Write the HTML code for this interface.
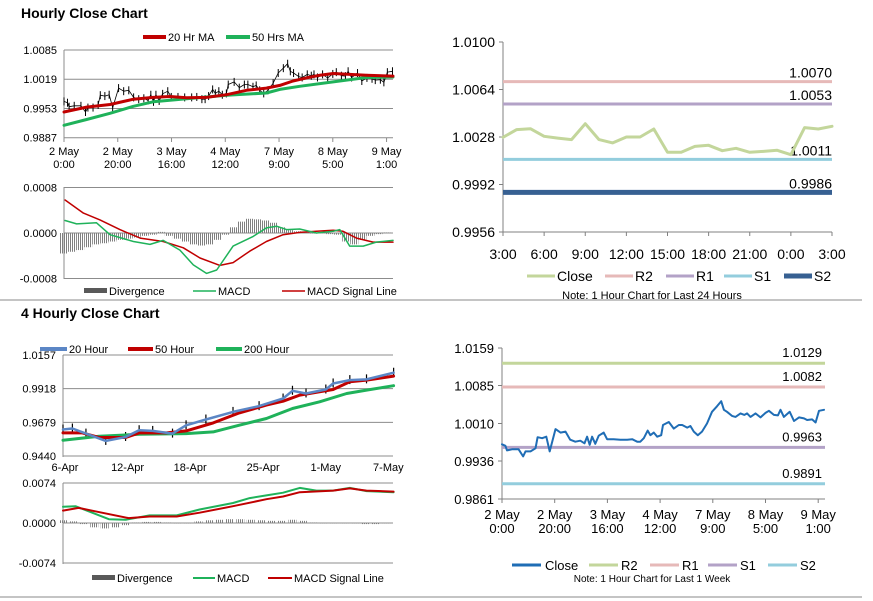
<!DOCTYPE html>
<html><head><meta charset="utf-8">
<style>
html,body{margin:0;padding:0;background:#fff;}
svg{display:block;font-family:"Liberation Sans",Arial,sans-serif;}
</style></head>
<body>
<svg id="c" width="873" height="601" viewBox="0 0 873 601" xmlns="http://www.w3.org/2000/svg">
<defs>
<pattern id="hatch" width="2" height="4" patternUnits="userSpaceOnUse"><rect x="0" y="0" width="1" height="4" fill="#7f7f7f"/></pattern>
</defs>
<text x="21" y="18" font-size="14" font-weight="bold" fill="#000">Hourly Close Chart</text>
<text x="21" y="318" font-size="14" font-weight="bold" fill="#000">4 Hourly Close Chart</text>
<line x1="0" y1="300" x2="862" y2="300" stroke="#888" stroke-width="1"/>
<line x1="0" y1="597" x2="862" y2="597" stroke="#888" stroke-width="1"/>
<g id="g"></g>
</svg>
<script>
// ---- Hourly (2 May 0:00 .. 9 May 1:00), hours since start ----
const hourTicks=[0,20,40,60,80,100,120];
const hourTickLabels=[["2 May","0:00"],["2 May","20:00"],["3 May","16:00"],["4 May","12:00"],["7 May","9:00"],["8 May","5:00"],["9 May","1:00"]];
const closeHours=[0,1.3,1.9,3.8,6.3,8.0,8.9,10.8,12.7,13.5,15.2,16.8,18.1,20.3,22.2,24.1,25.9,27.8,29.7,31.3,32.3,33.3,34.2,35.4,36.7,38.6,39.9,42.4,44.9,47.5,49.4,51.3,52.5,53.8,55.3,56.3,57.6,58.9,60.4,61.1,63.3,65.2,67.1,68.4,70.3,71.5,72.8,74.3,75.9,77.8,79.7,81.6,83.2,84.2,85.4,87.3,88.6,90.5,92.0,93.0,94.3,96.2,98.1,100.0,101.3,103.2,104.7,105.7,107.0,109.2,110.8,112.7,114.6,115.8,117.7,119.0,120.3,122.2];
const closeValues=[0.9969,0.9966,0.9957,0.9959,0.9959,0.9945,0.9955,0.9955,0.9961,0.9983,0.9981,0.9984,0.9955,0.9999,0.9992,0.9994,0.9978,0.9974,0.9976,0.9971,0.9984,0.9968,0.9984,0.9970,0.9986,0.9992,0.9979,0.9979,0.9978,0.9978,0.9979,0.9974,0.9974,0.9981,0.9996,0.9987,0.9992,0.9984,0.9987,1.0007,1.0013,1.0000,1.0007,1.0007,1.0002,1.0005,0.9994,0.9987,0.9994,1.0010,1.0033,1.0044,1.0054,1.0037,1.0033,1.0025,1.0023,1.0030,1.0027,1.0030,1.0023,1.0030,1.0022,1.0031,1.0035,1.0027,1.0026,1.0037,1.0023,1.0033,1.0015,1.0022,1.0020,1.0017,1.0018,1.0012,1.0035,1.0037];
const ma20Hours=[0,8.4,17.1,25.8,33.2,39.4,45.6,53.0,60.5,67.9,75.3,80.3,85.2,90.2,95.2,100.1,106.3,112.5,122.4];
const ma20Values=[0.9945,0.9956,0.9962,0.9974,0.9978,0.9980,0.9977,0.9978,0.9984,0.9994,0.9999,1.0005,1.0015,1.0022,1.0028,1.0032,1.0030,1.0028,1.0026];
const ma50Hours=[0,8.4,17.1,25.8,33.2,45.6,60.5,75.3,80.3,87.7,100.1,112.5,122.4];
const ma50Values=[0.9915,0.9928,0.9942,0.9958,0.9968,0.9975,0.9983,0.9988,0.9996,1.0003,1.0013,1.0023,1.0024];
const hMacdHours=[0.4,4.7,12.1,17.1,25.8,32.0,36.9,43.1,48.1,53.0,56.8,62.9,70.4,75.3,79.1,82.8,87.7,93.9,100.1,102.6,106.3,111.3,116.2,122.4];
const hMacdValues=[0.00022,0.00016,0.00018,-0.00003,-0.00015,-0.0002,-0.00013,-0.0003,-0.00056,-0.00071,-0.00065,-0.00023,-0.00006,0.00009,0.00012,0.00006,0.00007,0,0.00003,0.00006,-0.00023,-0.00023,-0.00016,-0.00013];
const hSignalHours=[0.4,7.2,13.4,20.8,28.3,36.9,44.4,50.6,58.0,62.9,69.1,75.3,81.5,87.7,93.9,100.1,103.8,108.8,115.0,122.4];
const hSignalValues=[0.00058,0.00035,0.00023,0.00006,-0.00009,-0.00015,-0.00026,-0.00044,-0.00057,-0.00052,-0.00032,-0.00015,-0.00003,0.00001,0.00003,0.00005,0.00003,-0.00009,-0.00016,-0.00016];
const hDivValues=[-0.00036,-0.00033,-0.0003,-0.00025,-0.0002,-0.00018,-0.00015,-0.00012,-0.0001,-0.00008,-0.00005,-0.00003,0.00002,-0.00005,-0.0001,-0.00015,-0.0002,-0.00022,-0.0002,-0.00012,-0.00003,0.0001,0.0002,0.00025,0.00024,0.00022,0.00018,0.0001,0.00005,0.00003,0.00002,-0.00001,0,-0.00002,-0.00003,-0.00015,-0.0002,-0.00012,-0.00005,-0.00002,0.00001];
// ---- 4 hourly (days since 6-Apr) ----
const dayTicks=[0,6,12,19,25,31];
const dayTickLabels=["6-Apr","12-Apr","18-Apr","25-Apr","1-May","7-May"];
const ma20dDays=[0,0.9,2.2,4.1,6.0,7.3,8.6,10.5,11.8,13.7,16.3,18.8,21.1,22.0,23.3,25.2,25.9,27.5,29.1,31.7];
const ma20dValues=[0.9628,0.9635,0.9599,0.9547,0.9575,0.9623,0.9618,0.9599,0.9658,0.9699,0.9753,0.9794,0.9848,0.9903,0.9884,0.9912,0.9955,0.9979,0.9984,1.0031];
const ma50dDays=[0,1.86,3.46,6.0,7.3,9.9,11.8,14.4,16.9,19.5,21.1,22.7,24.6,25.9,27.5,29.1,31.7];
const ma50dValues=[0.9604,0.9604,0.9571,0.9571,0.9604,0.9604,0.9618,0.9675,0.9746,0.9801,0.9829,0.9872,0.9896,0.9912,0.9967,0.9979,1.0007];
const ma200dDays=[0,3.46,7.3,11.8,14.4,16.9,19.5,22.0,24.6,27.2,29.1,31.7];
const ma200dValues=[0.9552,0.9580,0.9594,0.9599,0.9611,0.9659,0.9706,0.9777,0.9825,0.9884,0.9908,0.9939];
const dMacdDays=[0,1.2,2.8,4.4,6.0,8.3,10.9,13.1,16.3,17.9,19.5,21.1,22.7,24.3,25.9,27.5,29.1,31.7];
const dMacdValues=[0.0030,0.0031,0.0019,0.0007,0.0006,0.0014,0.0014,0.0025,0.0037,0.0046,0.0051,0.0056,0.0065,0.0060,0.0060,0.0065,0.0059,0.0057];
const dSignalDays=[0,1.5,3.5,6.3,8.3,10.9,13.1,16.3,19.5,21.1,22.7,25.9,27.5,29.1,31.7];
const dSignalValues=[0.0023,0.0028,0.0020,0.0009,0.0012,0.0012,0.0019,0.0031,0.0044,0.0049,0.0057,0.0060,0.0064,0.0060,0.0058];
const dDivValues=[0.0005,0.0003,-0.0002,-0.0008,-0.0010,-0.0008,-0.0004,0.0001,0.0002,0.0002,0.0001,0,0,0.0003,0.0005,0.0006,0.0007,0.0007,0.0006,0.0005,0.0004,0.0004,0.0006,0.0004,0.0001,0,0,0,0,-0.0002,-0.0002,0];
// ---- 24h pivot chart ----
const dayCloseLabels=["3:00","6:00","9:00","12:00","15:00","18:00","21:00","0:00","3:00"];
const dayCloseValues=[1.00278,1.00336,1.00343,1.00285,1.00272,1.00260,1.00381,1.00260,1.00235,1.00280,1.00280,1.00341,1.00164,1.00164,1.00209,1.00217,1.00176,1.00194,1.00164,1.00171,1.00179,1.00146,1.00351,1.00341,1.00361];
const dayPivotNames=["R2","R1","S1","S2"];
const dayPivotValues=[1.0070,1.0053,1.0011,0.9986];
const weekPivotNames=["R2","R1","S1","S2"];
const weekPivotValues=[1.0129,1.0082,0.9963,0.9891];

const NS="http://www.w3.org/2000/svg";
const G=document.getElementById('g');
function mk(tag,attrs,name,parent){
  const el=document.createElementNS(NS,tag);
  for(const k in attrs) el.setAttribute(k,attrs[k]);
  
  
  (parent||G).appendChild(el);
  return el;
}
function txt(x,y,s,size,anchor,name,fill){
  const t=mk('text',{x:x,y:y,'font-size':size,'text-anchor':anchor||'start',fill:fill||'#000'},name);
  t.textContent=s; return t;
}
function path(xs,ys,fx,fy,color,w,name){
  let d='';
  for(let i=0;i<xs.length;i++){d+=(i?'L':'M')+fx(xs[i]).toFixed(1)+','+fy(ys[i]).toFixed(1);}
  return mk('path',{d:d,fill:'none',stroke:color,'stroke-width':w,'stroke-linejoin':'round','stroke-linecap':'round'},name);
}
const GRID='#8c8c8c';
function hgrid(x1,x2,y,name){mk('line',{x1:x1,x2:x2,y1:y,y2:y,stroke:GRID,'stroke-width':1},name);}
function legendLine(x1,x2,y,color,w,label,name){
  mk('line',{x1:x1,x2:x2,y1:y,y2:y,stroke:color,'stroke-width':w},name+'-swatch');
  txt(x2+2,y+4,label,11,'start',name+'-label');
}

// ===== Panel 1: hourly price =====
const x1=h=>64+h*2.688, y1=v=>50+(1.0085-v)/0.0198*87.7;
[1.0085,1.0019,0.9953,0.9887].forEach(v=>{hgrid(64,393,y1(v),'p1-gridline');txt(57,y1(v)+4,v.toFixed(4),11,'end','p1-y-tick');});
mk('line',{x1:64,x2:64,y1:50,y2:138,stroke:GRID},'p1-y-axis');
hourTicks.forEach((h,i)=>{mk('line',{x1:x1(h),x2:x1(h),y1:138,y2:142,stroke:GRID},'p1-x-tick');
 txt(x1(h),155,hourTickLabels[i][0],11,'middle','p1-x-label');txt(x1(h),168,hourTickLabels[i][1],11,'middle','p1-x-label');});
for(let i=0;i<closeHours.length;i++){
  mk('line',{x1:x1(closeHours[i]),x2:x1(closeHours[i]),y1:y1(closeValues[i])-4,y2:y1(closeValues[i])+4,stroke:'#000','stroke-width':1},'p1-price-bar');
}
path(closeHours,closeValues,x1,y1,'#000',0.8,'p1-price-line');
path(ma50Hours,ma50Values,x1,y1,'#1fb25a',3,'p1-ma50-line');
path(ma20Hours,ma20Values,x1,y1,'#c00000',3,'p1-ma20-line');
legendLine(143,166,37,'#c00000',4,'20 Hr MA','p1-legend-ma20');
legendLine(226,250,37,'#1fb25a',4,'50 Hrs MA','p1-legend-ma50');

// ===== Panel 1 MACD =====
const ym1=v=>233-v/0.0008*45.5;
[0.0008,0,-0.0008].forEach(v=>{hgrid(64,393,ym1(v),'p1m-gridline');txt(57,ym1(v)+4,v.toFixed(4),11,'end','p1m-y-tick');});
mk('line',{x1:64,x2:64,y1:187,y2:279,stroke:GRID},'p1m-y-axis');
hDivValues.forEach((v,i)=>{const yy=ym1(v),y0=ym1(0);
 mk('rect',{x:x1(i*3)-4,y:Math.min(yy,y0),width:8,height:Math.max(Math.abs(yy-y0),0.5),fill:'url(#hatch)'},'p1-divergence-bar');});
path(hSignalHours,hSignalValues,x1,ym1,'#c00000',1.5,'p1-macd-signal-line');
path(hMacdHours,hMacdValues,x1,ym1,'#1fb25a',1.5,'p1-macd-line');
mk('rect',{x:84,y:288,width:23,height:5,fill:'#595959'},'p1-legend-divergence-swatch');
txt(109,295,'Divergence',11,'start','p1-legend-divergence-label');
legendLine(193,216,291,'#1fb25a',1.5,'MACD','p1-legend-macd');
legendLine(282,305,291,'#c00000',1.5,'MACD Signal Line','p1-legend-signal');

// ===== Panel 2: 4-hourly price =====
const x2=d=>63+d*10.43, y2=v=>355+(1.0157-v)/0.0717*101;
[1.0157,0.9918,0.9679,0.9440].forEach(v=>{hgrid(63,393,y2(v),'p2-gridline');txt(56,y2(v)+4,v.toFixed(4),11,'end','p2-y-tick');});
mk('line',{x1:63,x2:63,y1:355,y2:457,stroke:GRID},'p2-y-axis');
dayTicks.forEach((d,i)=>{txt(x2(d)+2,471,dayTickLabels[i],11,'middle','p2-x-label');});
for(let i=0;i<ma20dDays.length;i++){
  mk('line',{x1:x2(ma20dDays[i]),x2:x2(ma20dDays[i]),y1:y2(ma20dValues[i])-5,y2:y2(ma20dValues[i])+4,stroke:'#000','stroke-width':1.2},'p2-price-bar');
}
path(ma200dDays,ma200dValues,x2,y2,'#1fb25a',3,'p2-ma200-line');
path(ma50dDays,ma50dValues,x2,y2,'#c00000',3,'p2-ma50-line');
path(ma20dDays,ma20dValues,x2,y2,'#5b86c5',2.5,'p2-ma20-line');
legendLine(40,67,349,'#5b86c5',4,'20 Hour','p2-legend-ma20');
legendLine(128,153,349,'#c00000',4,'50 Hour','p2-legend-ma50');
legendLine(216,242,349,'#1fb25a',4,'200 Hour','p2-legend-ma200');

// ===== Panel 2 MACD =====
const ym2=v=>523-v/0.0074*40;
[0.0074,0,-0.0074].forEach(v=>{hgrid(63,393,ym2(v),'p2m-gridline');txt(56,ym2(v)+4,v.toFixed(4),11,'end','p2m-y-tick');});
mk('line',{x1:63,x2:63,y1:483,y2:564,stroke:GRID},'p2m-y-axis');
dDivValues.forEach((v,i)=>{const yy=ym2(v),y0=ym2(0);
 mk('rect',{x:x2(i)-4,y:Math.min(yy,y0),width:8,height:Math.max(Math.abs(yy-y0),0.5),fill:'url(#hatch)'},'p2-divergence-bar');});
path(dMacdDays,dMacdValues,x2,ym2,'#1fb25a',2,'p2-macd-line');
path(dSignalDays,dSignalValues,x2,ym2,'#c00000',2,'p2-macd-signal-line');
mk('rect',{x:92,y:575,width:23,height:5,fill:'#595959'},'p2-legend-divergence-swatch');
txt(117,582,'Divergence',11,'start','p2-legend-divergence-label');
legendLine(193,215,578,'#1fb25a',2,'MACD','p2-legend-macd');
legendLine(268,292,578,'#c00000',2,'MACD Signal Line','p2-legend-signal');

// ===== Panel 3: 24h pivots =====
const x3=i=>503+i*(329/24), y3=v=>42+(1.0100-v)/0.0144*190;
const p3Colors=['#e6b9b8','#b3a2c7','#93cddd','#376092'];
mk('line',{x1:503,x2:503,y1:42,y2:232,stroke:'#808080'},'p3-y-axis');
mk('line',{x1:503,x2:832,y1:232,y2:232,stroke:'#808080'},'p3-x-axis');
[1.0100,1.0064,1.0028,0.9992,0.9956].forEach(v=>{mk('line',{x1:499,x2:503,y1:y3(v),y2:y3(v),stroke:'#808080'},'p3-y-tickmark');
 txt(495,y3(v)+5,v.toFixed(4),14,'end','p3-y-tick');});
dayCloseLabels.forEach((s,i)=>{const xx=x3(i*3);mk('line',{x1:xx,x2:xx,y1:232,y2:236,stroke:'#808080'},'p3-x-tickmark');
 txt(xx,259,s,14,'middle','p3-x-label');});
dayPivotValues.forEach((v,i)=>{mk('line',{x1:503,x2:832,y1:y3(v),y2:y3(v),stroke:p3Colors[i],'stroke-width':i==3?5:3},'p3-pivot-'+dayPivotNames[i].toLowerCase());
 txt(832,y3(v)-4,v.toFixed(4),14,'end','p3-pivot-label');});
path(dayCloseValues.map((v,i)=>i),dayCloseValues,x3,y3,'#c3d69b',3,'p3-close-line');
legendLine(527,555,276,'#c3d69b',3,'','p3-legend-close');
txt(557,281,'Close',14,'start','p3-legend-close-text');
['R2','R1','S1','S2'].forEach((n,i)=>{const xs=[605,666,724,784][i];
 mk('line',{x1:xs,x2:xs+28,y1:276,y2:276,stroke:p3Colors[i],'stroke-width':i==3?5:3},'p3-legend-'+n.toLowerCase()+'-swatch');
 txt(xs+30,281,n,14,'start','p3-legend-'+n.toLowerCase()+'-label');});
txt(652,299,'Note: 1 Hour Chart for Last 24 Hours',11,'middle','p3-note');

// ===== Panel 4: week pivots =====
const x4=h=>502+h*2.635, y4=v=>348+(1.0159-v)/0.0298*151;
const p4Colors=['#c3d69b','#e6b9b8','#b3a2c7','#93cddd'];
mk('line',{x1:502,x2:502,y1:348,y2:499,stroke:'#808080'},'p4-y-axis');
mk('line',{x1:502,x2:825,y1:499,y2:499,stroke:'#808080'},'p4-x-axis');
[1.0159,1.0085,1.0010,0.9936,0.9861].forEach(v=>{mk('line',{x1:498,x2:502,y1:y4(v),y2:y4(v),stroke:'#808080'},'p4-y-tickmark');
 txt(494,y4(v)+5,v.toFixed(4),13,'end','p4-y-tick');});
hourTicks.forEach((h,i)=>{const xx=x4(h);mk('line',{x1:xx,x2:xx,y1:499,y2:503,stroke:'#808080'},'p4-x-tickmark');
 txt(xx,519,hourTickLabels[i][0],13,'middle','p4-x-label');txt(xx,533,hourTickLabels[i][1],13,'middle','p4-x-label');});
weekPivotValues.forEach((v,i)=>{mk('line',{x1:502,x2:825,y1:y4(v),y2:y4(v),stroke:p4Colors[i],'stroke-width':3},'p4-pivot-'+weekPivotNames[i].toLowerCase());
 txt(822,y4(v)-6,v.toFixed(4),13,'end','p4-pivot-label');});
path(closeHours,closeValues,x4,y4,'#1f6db5',2,'p4-close-line');
mk('line',{x1:512,x2:541,y1:565,y2:565,stroke:'#1f6db5','stroke-width':3},'p4-legend-close-swatch');
txt(545,570,'Close',13,'start','p4-legend-close-label');
['R2','R1','S1','S2'].forEach((n,i)=>{const xs=[589,650,708,768][i];
 mk('line',{x1:xs,x2:xs+29,y1:565,y2:565,stroke:p4Colors[i],'stroke-width':3},'p4-legend-'+n.toLowerCase()+'-swatch');
 txt(xs+32,570,n,13,'start','p4-legend-'+n.toLowerCase()+'-label');});
txt(652,582,'Note: 1 Hour Chart for Last 1 Week',10,'middle','p4-note');
</script>
</body></html>
